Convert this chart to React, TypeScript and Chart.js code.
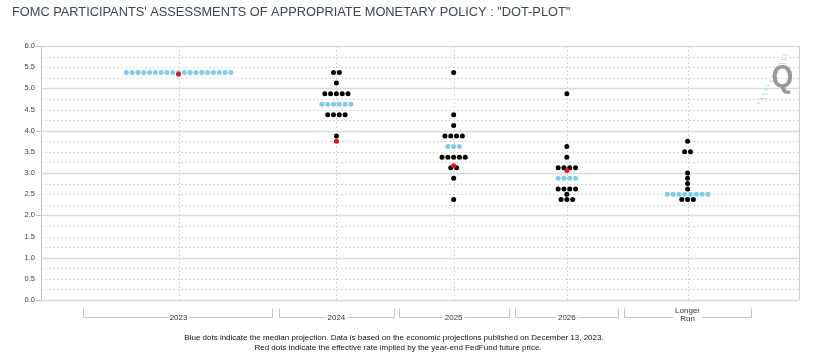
import React, { useEffect, useRef } from "react";
import { Chart, registerables } from "chart.js";
Chart.register(...registerables);

// ---------- data ----------
const categories = ["2023", "2024", "2025", "2026", "Longer Run"];
const rates2023 = [5.375];
const counts2023 = [19];
const rates2024 = [5.375, 5.125, 4.875, 4.625, 4.375, 3.875];
const counts2024 = [2, 1, 5, 6, 4, 1];
const rates2025 = [5.375, 4.375, 4.125, 3.875, 3.625, 3.375, 3.125, 2.875, 2.375];
const counts2025 = [1, 1, 1, 4, 3, 5, 2, 1, 1];
const rates2026 = [4.875, 3.625, 3.375, 3.125, 2.875, 2.625, 2.5, 2.375];
const counts2026 = [1, 1, 1, 4, 4, 4, 1, 3];
const ratesLR = [3.75, 3.5, 3.0, 2.875, 2.75, 2.625, 2.5, 2.375];
const countsLR = [1, 2, 1, 1, 1, 1, 8, 3];
const medians = [5.375, 4.625, 3.625, 2.875, 2.5];
const impliedRates: (number | null)[] = [5.33, 3.75, 3.17, 3.06, null];
const yMin = 0;
const yMax = 6;

const titleText = "FOMC PARTICIPANTS' ASSESSMENTS OF APPROPRIATE MONETARY POLICY : \"DOT-PLOT\"";
const note1 = "Blue dots indicate the median projection. Data is based on the economic projections published on December 13, 2023.";
const note2 = "Red dots indicate the effective rate implied by the year-end FedFund future price.";

// ---------- layout (x axis in units of one dot width) ----------
const X_MAX = 130.6;
const CENTERS = [23.7, 50.9, 71.1, 90.6, 111.4];
const BRACKETS = [
  [7.29, 39.88],
  [41.09, 60.74],
  [61.6, 80.57],
  [81.6, 99.5],
  [100.4, 122.3],
];

const BLUE = "#7fcbea";
const BLACK = "#000000";
const RED = "#e3141c";
const FONT = "'Liberation Sans', Arial, sans-serif";

const allRates = [rates2023, rates2024, rates2025, rates2026, ratesLR];
const allCounts = [counts2023, counts2024, counts2025, counts2026, countsLR];

function buildPoints(median: boolean) {
  const pts: { x: number; y: number }[] = [];
  allRates.forEach((rates, ci) => {
    rates.forEach((r, ri) => {
      const isMed = r === medians[ci];
      if (isMed !== median) return;
      const n = allCounts[ci][ri];
      for (let i = 0; i < n; i++) {
        pts.push({ x: CENTERS[ci] + (i - (n - 1) / 2), y: r });
      }
    });
  });
  return pts;
}

const redPoints = impliedRates
  .map((v, i) => (v == null ? null : { x: CENTERS[i], y: v }))
  .filter((p) => p != null) as { x: number; y: number }[];

const decorPlugin = {
  id: "decor",
  beforeDatasetsDraw(chart: any) {
    const { ctx, chartArea: a, scales } = chart;
    const ys = scales.y;
    const xs = scales.x;
    ctx.save();
    for (let k = 0; k <= (yMax - yMin) * 4; k++) {
      const v = yMin + k * 0.25;
      const isInt = k % 4 === 0;
      const py = Math.round(ys.getPixelForValue(v)) + 0.5;
      ctx.beginPath();
      ctx.setLineDash(isInt ? [] : [2, 2]);
      ctx.strokeStyle = isInt ? "#dadada" : "#d8d8d8";
      ctx.lineWidth = isInt ? 1.6 : 1;
      ctx.moveTo(a.left, py);
      ctx.lineTo(a.right, py);
      ctx.stroke();
    }
    // vertical dashed lines at category centers
    ctx.setLineDash([2, 2]);
    ctx.strokeStyle = "#d8d8d8";
    ctx.lineWidth = 1;
    CENTERS.forEach((c) => {
      const px = Math.round(xs.getPixelForValue(c)) + 0.5;
      ctx.beginPath();
      ctx.moveTo(px, a.top);
      ctx.lineTo(px, a.bottom);
      ctx.stroke();
    });
    ctx.setLineDash([]);
    // right border
    ctx.strokeStyle = "#cfcfcf";
    ctx.beginPath();
    ctx.moveTo(Math.round(a.right) + 0.5, a.top);
    ctx.lineTo(Math.round(a.right) + 0.5, a.bottom);
    ctx.stroke();
    // tick marks on y axis
    ctx.strokeStyle = "#bdbdbd";
    [0, 2, 4, 6].forEach((v) => {
      const py = Math.round(ys.getPixelForValue(v)) + 0.5;
      ctx.beginPath();
      ctx.moveTo(a.left - 5, py);
      ctx.lineTo(a.left, py);
      ctx.stroke();
    });
    // watermark logo
    ctx.strokeStyle = "#a9dcf0";
    ctx.lineWidth = 1;
    for (let i = 0; i < 12; i++) {
      const t = i / 11;
      const cx = 757 + t * 26;
      const cy = 103 - t * 48;
      const len = 3 + ((i * 7) % 4) * 1.5;
      ctx.beginPath();
      ctx.moveTo(cx, cy);
      ctx.lineTo(cx + len, cy);
      ctx.stroke();
    }
    ctx.fillStyle = "#999999";
    ctx.font = "bold 28px 'Liberation Sans', Arial, sans-serif";
    ctx.textAlign = "center";
    ctx.textBaseline = "middle";
    ctx.translate(782.5, 78);
    ctx.scale(1, 1.15);
    ctx.fillText("Q", 0, 0);
    ctx.restore();
  },
  afterDraw(chart: any) {
    const { ctx, scales } = chart;
    const xs = scales.x;
    ctx.save();
    // title
    ctx.fillStyle = "#3b4757";
    ctx.font = `12.8px ${FONT}`;
    ctx.textAlign = "left";
    ctx.textBaseline = "middle";
    ctx.fillText(titleText, 12, 12);
    // category brackets
    const lineY = 317.5;
    ctx.font = `8px ${FONT}`;
    ctx.textAlign = "center";
    BRACKETS.forEach(([s, e], i) => {
      const x0 = Math.round(xs.getPixelForValue(s)) + 0.5;
      const x1 = Math.round(xs.getPixelForValue(e)) + 0.5;
      ctx.strokeStyle = "#c4c4c4";
      ctx.lineWidth = 1;
      ctx.beginPath();
      ctx.moveTo(x0, lineY - 9);
      ctx.lineTo(x0, lineY);
      ctx.lineTo(x1, lineY);
      ctx.lineTo(x1, lineY - 9);
      ctx.stroke();
      const cx = xs.getPixelForValue(CENTERS[i]);
      const parts = categories[i].split(" ");
      const w = Math.max(...parts.map((p) => ctx.measureText(p).width)) + 4;
      const h = parts.length * 7.5 + 2;
      ctx.fillStyle = "#ffffff";
      ctx.fillRect(cx - w / 2, lineY - h / 2 - (parts.length > 1 ? 3 : 0), w, h);
      ctx.fillStyle = "#333333";
      if (parts.length === 1) {
        ctx.fillText(parts[0], cx, lineY);
      } else {
        ctx.fillText(parts[0], cx, lineY - 6.5);
        ctx.fillText(parts[1], cx, lineY + 1);
      }
    });
    // footnote
    ctx.fillStyle = "#111111";
    ctx.font = `8px ${FONT}`;
    ctx.fillText(note1, 394, 338);
    ctx.fillText(note2, 398, 348);
    ctx.restore();
  },
};

export default function App() {
  const ref = useRef<HTMLCanvasElement>(null);
  useEffect(() => {
    if (!ref.current) return;
    const chart = new Chart(ref.current, {
      type: "scatter",
      data: {
        datasets: [
          {
            label: "Implied",
            data: redPoints,
            backgroundColor: RED,
            pointRadius: 2.5,
            borderWidth: 0,
          },
          {
            label: "Participants",
            data: buildPoints(false),
            backgroundColor: BLACK,
            pointRadius: 2.5,
            borderWidth: 0,
          },
          {
            label: "Median",
            data: buildPoints(true),
            backgroundColor: BLUE,
            pointRadius: 2.5,
            borderWidth: 0,
          },
        ],
      },
      options: {
        animation: false,
        responsive: false,
        layout: { padding: { left: 0, right: 15, top: 46, bottom: 57 } },
        plugins: {
          legend: { display: false },
          tooltip: { enabled: false },
          title: { display: false },
        },
        scales: {
          x: {
            type: "linear",
            display: false,
            min: 0,
            max: X_MAX,
          },
          y: {
            type: "linear",
            min: yMin,
            max: yMax,
            afterFit: (s: any) => {
              s.width = 41;
            },
            grid: { display: false, drawTicks: false },
            border: { display: true, color: "#c4c4c4", width: 1 },
            ticks: {
              stepSize: 0.5,
              padding: 6,
              color: "#404040",
              font: { size: 7.5, family: FONT },
              callback: (v: any) => Number(v).toFixed(1),
            },
          },
        },
      },
      plugins: [decorPlugin],
    });
    return () => chart.destroy();
  }, []);
  return (
    <div style={{ position: "absolute", left: 0, top: 0, width: 814, height: 357, background: "#fff" }}>
      <canvas ref={ref} width={814} height={357} style={{ width: 814, height: 357 }} />
    </div>
  );
}
